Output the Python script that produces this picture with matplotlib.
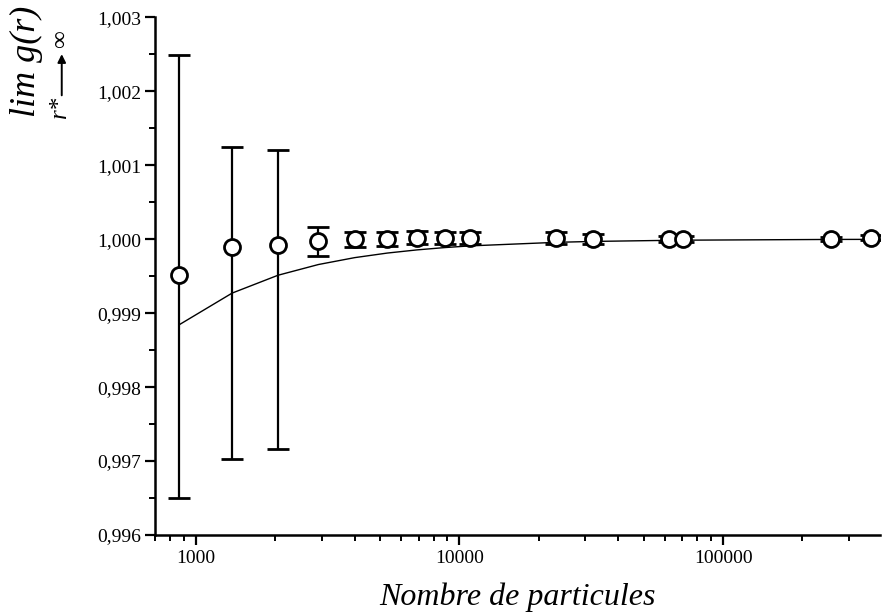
import matplotlib
matplotlib.use("Agg")
import matplotlib.pyplot as plt
from matplotlib.ticker import FixedLocator, FuncFormatter, LogLocator, NullFormatter, MultipleLocator

# --- data ---
n_particles = [864, 1372, 2048, 2916, 4000, 5324, 6912, 8788, 10976,
               23328, 32000, 62500, 70304, 256000, 364500]
g_limit = [0.99952, 0.99990, 0.99992, 0.99997, 1.00000, 1.00000, 1.00002,
           1.00002, 1.00002, 1.00001, 1.00000, 1.00000, 1.00000, 1.00000, 1.00002]
g_err_low = [0.00302, 0.00287, 0.00276, 0.00020, 0.00010, 0.00009, 0.00009,
             0.00008, 0.00008, 0.00008, 0.00007, 0.00004, 0.00004, 0.00003, 0.00003]
g_err_high = [0.00297, 0.00135, 0.00128, 0.00020, 0.00010, 0.00009, 0.00009,
              0.00008, 0.00008, 0.00008, 0.00007, 0.00004, 0.00004, 0.00003, 0.00003]

curve_n = [864, 1372, 2048, 2916, 4000, 5324, 6912, 8788, 10976,
           23328, 32000, 62500, 70304, 256000, 364500, 394000]
curve_g = [0.998843, 0.999271, 0.999512, 0.999657, 0.999750, 0.999812,
           0.999855, 0.999886, 0.999909, 0.999957, 0.999969, 0.999984,
           0.999986, 0.999996, 0.999997, 0.999997]

x_ticks = [1000, 10000, 100000]
x_tick_labels = ["1000", "10000", "100000"]
y_ticks = [0.996, 0.997, 0.998, 0.999, 1.000, 1.001, 1.002, 1.003]

serif = ["Liberation Serif", "DejaVu Serif"]
plt.rcParams["font.family"] = serif

fig = plt.figure(figsize=(8.82, 6.15), dpi=100)
ax = fig.add_axes([0.1757, 0.130, 0.822, 0.842])

ax.plot(curve_n, curve_g, color="black", lw=1.0, zorder=2)
ax.errorbar(n_particles, g_limit, yerr=[g_err_low, g_err_high], fmt="o", ms=11.5,
            mfc="white", mec="black", mew=2.0, ecolor="black",
            elinewidth=1.6, capsize=8, capthick=1.8, zorder=3)

ax.set_xscale("log")
ax.set_xlim(699, 394000)
ax.set_ylim(0.996, 1.003)

ax.xaxis.set_major_locator(FixedLocator(x_ticks))
ax.xaxis.set_major_formatter(FuncFormatter(
    lambda v, p: x_tick_labels[x_ticks.index(int(round(v)))] if int(round(v)) in x_ticks else ""))
ax.xaxis.set_minor_locator(LogLocator(base=10, subs=range(2, 10)))
ax.xaxis.set_minor_formatter(NullFormatter())

ax.yaxis.set_major_locator(FixedLocator(y_ticks))
ax.yaxis.set_minor_locator(MultipleLocator(0.0005))
ax.yaxis.set_major_formatter(FuncFormatter(lambda v, p: f"{v:.3f}".replace(".", ",")))

for s in ["top", "right"]:
    ax.spines[s].set_visible(False)
for s in ["left", "bottom"]:
    ax.spines[s].set_linewidth(1.8)

ax.tick_params(which="major", direction="out", length=7, width=1.6, labelsize=14, pad=3)
ax.tick_params(which="minor", direction="out", length=4, width=1.4)
ax.tick_params(axis="x", which="major", pad=4)

ax.set_xlabel("Nombre de particules", fontsize=23, style="italic", labelpad=11)

# y-axis label: lim g(r) with r* -> infinity subscript (rotated)
fig.text(0.030, 0.900, "lim g(r)", rotation=90, fontsize=26, style="italic",
         ha="center", va="center")
fig.text(0.068, 0.826, "r*", rotation=90, fontsize=18, style="italic",
         ha="center", va="center")
fig.text(0.069, 0.937, "\u221e", rotation=90, fontsize=18,
         ha="center", va="center")
ax.annotate("", xy=(0.070, 0.912), xycoords="figure fraction",
            xytext=(0.070, 0.845), textcoords="figure fraction",
            arrowprops=dict(arrowstyle="-|>", color="black", lw=1.4,
                            mutation_scale=12, shrinkA=0, shrinkB=0))

fig.savefig("out.png", dpi=100)
